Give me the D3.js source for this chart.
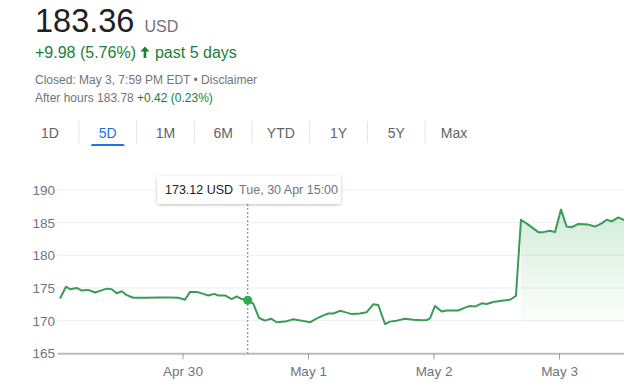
<!DOCTYPE html>
<html>
<head>
<meta charset="utf-8">
<script src="https://cdn.jsdelivr.net/npm/d3@7"></script>
<style>
  body { margin: 0; background: #fff; }
  svg { display: block; font-family: Arial, "Liberation Sans", sans-serif; }
</style>
</head>
<body>
<script>
// position of each quote in days since the start of Apr 29, and the price
const quoteDays = [
    0.024, 0.072, 0.104, 0.157, 0.197, 0.249, 0.303, 0.343, 0.396, 0.436,
    0.476, 0.516, 0.556, 0.608, 0.701, 0.821, 0.900, 0.967, 1.020, 1.060,
    1.113, 1.166, 1.206, 1.253, 1.285, 1.339, 1.392, 1.432, 1.472, 1.520,
    1.564, 1.610, 1.657, 1.705, 1.751, 1.817, 1.883, 1.950, 2.016, 2.056,
    2.109, 2.162, 2.202, 2.255, 2.295, 2.348, 2.414, 2.468, 2.520, 2.560,
    2.614, 2.653, 2.707, 2.773, 2.839, 2.906, 2.946, 2.972, 3.012, 3.065,
    3.105, 3.198, 3.251, 3.291, 3.331, 3.384, 3.424, 3.476, 3.543, 3.610,
    3.657, 3.697, 3.755, 3.835, 3.875, 3.928, 3.968, 4.016, 4.061, 4.101,
    4.154, 4.233, 4.287, 4.340, 4.380, 4.420, 4.472, 4.512, 4.566
];
const quotePrices = [
    173.4, 175.2, 174.8, 175.0, 174.6, 174.7, 174.3, 174.55, 174.9, 174.8,
    174.2, 174.5, 173.9, 173.5, 173.5, 173.55, 173.55, 173.5, 173.2, 174.4,
    174.4, 174.1, 173.85, 174.1, 173.85, 173.85, 173.3, 173.7, 173.3, 173.12,
    172.6, 170.4, 170.0, 170.3, 169.75, 169.85, 170.2, 170.0, 169.75, 170.2,
    170.7, 171.1, 171.1, 171.5, 171.3, 171.0, 171.1, 171.3, 172.5, 172.4,
    169.45, 169.85, 170.0, 170.3, 170.15, 170.05, 170.1, 170.35, 172.25, 171.4,
    171.55, 171.55, 172.0, 172.25, 172.15, 172.65, 172.55, 172.85, 173.05, 173.2,
    173.8, 185.45, 184.7, 183.55, 183.55, 183.75, 183.55, 187.0, 184.4, 184.3,
    184.8, 184.7, 184.4, 184.9, 185.45, 185.2, 185.8, 185.45, 185.5
];

const dayTicks = [1, 2, 3, 4];
const dayLabels = ["Apr 30", "May 1", "May 2", "May 3"];
const priceTicks = [165, 170, 175, 180, 185, 190];
const rangeTabs = ["1D", "5D", "1M", "6M", "YTD", "1Y", "5Y", "Max"];
const activeTab = "5D";

const hoverIndex = 29;
const hoverLabel = "Tue, 30 Apr 15:00";

const svgWidth = 624;
const svgHeight = 387;
const lineColor = "#3a9b57";
const green = "#188038";
const grey = "#70757a";

window.onload = main;

function main() {
    const data = quoteDays.map((d, i) => ({day: d, price: quotePrices[i]}));

    const svg = d3.select("body")
        .append("svg")
        .attr("width", svgWidth)
        .attr("height", svgHeight);

    render_header(svg);
    render_tabs(svg);
    render_chart(svg, data);
}

function render_header(svg) {
    const price = svg.append("text").attr("x", 35).attr("y", 32);
    price.append("tspan").text("183.36").attr("font-size", 32.5).attr("fill", "#202124");
    price.append("tspan").text("USD").attr("dx", 10).attr("font-size", 16).attr("fill", grey);

    const change = svg.append("text").attr("x", 35).attr("y", 58)
        .attr("font-size", 16).attr("fill", green)
        .text("+9.98 (5.76%)");
    const arrowX = 35 + change.node().getComputedTextLength() + 5;

    // up arrow drawn as a path
    svg.append("path")
        .attr("d", `M${arrowX + 4},46.5 L${arrowX + 8.5},51.5 L${arrowX + 5.3},51.5 L${arrowX + 5.3},58 `
            + `L${arrowX + 2.7},58 L${arrowX + 2.7},51.5 L${arrowX - 0.5},51.5 Z`)
        .attr("fill", green);

    svg.append("text").attr("x", arrowX + 14).attr("y", 58)
        .attr("font-size", 16).attr("fill", green)
        .text("past 5 days");

    svg.append("text").attr("x", 35).attr("y", 84).attr("font-size", 12).attr("fill", grey)
        .text("Closed: May 3, 7:59 PM EDT • Disclaimer");

    const after = svg.append("text").attr("x", 35).attr("y", 102).attr("font-size", 12);
    after.append("tspan").text("After hours 183.78 ").attr("fill", grey);
    after.append("tspan").text("+0.42 (0.23%)").attr("fill", green);
}

function render_tabs(svg) {
    const tabX = d3.scalePoint()
        .domain(rangeTabs)
        .range([50, 454]);
    const step = tabX.step();

    const g = svg.append("g");
    g.selectAll("text")
        .data(rangeTabs)
        .join("text")
        .attr("x", d => tabX(d))
        .attr("y", 138)
        .attr("text-anchor", "middle")
        .attr("font-size", 14)
        .attr("fill", d => d === activeTab ? "#1a73e8" : "#5f6368")
        .text(d => d);

    g.selectAll("line")
        .data(rangeTabs.slice(1))
        .join("line")
        .attr("x1", d => tabX(d) - step / 2)
        .attr("x2", d => tabX(d) - step / 2)
        .attr("y1", 121)
        .attr("y2", 143)
        .attr("stroke", "#e3e3e3");

    g.append("rect")
        .attr("x", tabX(activeTab) - 17)
        .attr("y", 144)
        .attr("width", 34)
        .attr("height", 4)
        .attr("rx", 2)
        .attr("fill", "#1a73e8");
    // square off the bottom of the underline
    g.append("rect")
        .attr("x", tabX(activeTab) - 17)
        .attr("y", 146)
        .attr("width", 34)
        .attr("height", 2)
        .attr("fill", "#fff");
}

function render_chart(svg, data) {
    const left = 57;
    const dayWidth = 125.5;

    const x = d3.scaleLinear()
        .domain([0, 5])
        .range([left, left + 5 * dayWidth]);
    const y = d3.scaleLinear()
        .domain([165, 190])
        .range([353.3, 190]);

    const chart = svg.append("g");

    // grid lines
    chart.append("g")
        .selectAll("line")
        .data(priceTicks.slice(1))
        .join("line")
        .attr("x1", left)
        .attr("x2", svgWidth)
        .attr("y1", d => y(d))
        .attr("y2", d => y(d))
        .attr("stroke", "#eeeeee");

    // price labels
    chart.append("g")
        .selectAll("text")
        .data(priceTicks)
        .join("text")
        .attr("x", 55)
        .attr("y", d => y(d))
        .attr("dy", "0.36em")
        .attr("text-anchor", "end")
        .attr("font-size", 13.5)
        .attr("fill", grey)
        .text(d => d);

    // fill under the post-jump part of the line
    const gaps = data.slice(1).map((d, i) => d.price - data[i].price);
    const jumpIndex = gaps.indexOf(d3.max(gaps)) + 1;

    const grad = svg.append("defs").append("linearGradient")
        .attr("id", "fillGrad")
        .attr("gradientUnits", "userSpaceOnUse")
        .attr("x1", 0).attr("x2", 0)
        .attr("y1", y(187)).attr("y2", y(169));
    grad.append("stop").attr("offset", 0).attr("stop-color", "#34a853").attr("stop-opacity", 0.22);
    grad.append("stop").attr("offset", 1).attr("stop-color", "#34a853").attr("stop-opacity", 0);

    chart.append("path")
        .datum(data.slice(jumpIndex))
        .attr("d", d3.area()
            .x(d => x(d.day))
            .y0(y(165))
            .y1(d => y(d.price)))
        .attr("fill", "url(#fillGrad)");

    // x axis
    const xAxis = d3.axisBottom(x)
        .tickValues(dayTicks)
        .tickFormat((d, i) => dayLabels[i])
        .tickSize(6)
        .tickSizeOuter(0);

    const axisG = chart.append("g")
        .attr("transform", `translate(0, ${y(165)})`)
        .call(xAxis);
    axisG.select(".domain").attr("stroke", "#bdbdbd").attr("stroke-width", 2);
    axisG.selectAll(".tick line").attr("stroke", "#9e9e9e");
    axisG.selectAll(".tick text")
        .attr("font-size", 13.5)
        .attr("font-family", "Arial, 'Liberation Sans', sans-serif")
        .attr("fill", grey)
        .attr("dy", "1.05em");

    // hover guide
    const hover = data[hoverIndex];
    chart.append("line")
        .attr("x1", x(hover.day))
        .attr("x2", x(hover.day))
        .attr("y1", 204)
        .attr("y2", y(165))
        .attr("stroke", "#777")
        .attr("stroke-dasharray", "2,2");

    // price line
    chart.append("path")
        .datum(data)
        .attr("d", d3.line()
            .x(d => x(d.day))
            .y(d => y(d.price)))
        .attr("fill", "none")
        .attr("stroke", lineColor)
        .attr("stroke-width", 2)
        .attr("stroke-linejoin", "round");

    chart.append("circle")
        .attr("cx", x(hover.day))
        .attr("cy", y(hover.price))
        .attr("r", 4.5)
        .attr("fill", "#34a853");

    // tooltip
    const filter = svg.select("defs").append("filter")
        .attr("id", "shadow")
        .attr("x", "-10%").attr("y", "-30%")
        .attr("width", "120%").attr("height", "170%");
    filter.append("feDropShadow")
        .attr("dx", 0).attr("dy", 1)
        .attr("stdDeviation", 1.5)
        .attr("flood-color", "#000")
        .attr("flood-opacity", 0.25);

    const tip = chart.append("g");
    tip.append("rect")
        .attr("x", 157)
        .attr("y", 176)
        .attr("width", 184)
        .attr("height", 28)
        .attr("rx", 3)
        .attr("fill", "#fff")
        .attr("filter", "url(#shadow)");
    const tipText = tip.append("text")
        .attr("x", 165)
        .attr("y", 194)
        .attr("font-size", 12.5);
    tipText.append("tspan").text(`${hover.price.toFixed(2)} USD`).attr("fill", "#202124");
    tipText.append("tspan").text(hoverLabel).attr("dx", 6).attr("fill", grey);
}
</script>
</body>
</html>
